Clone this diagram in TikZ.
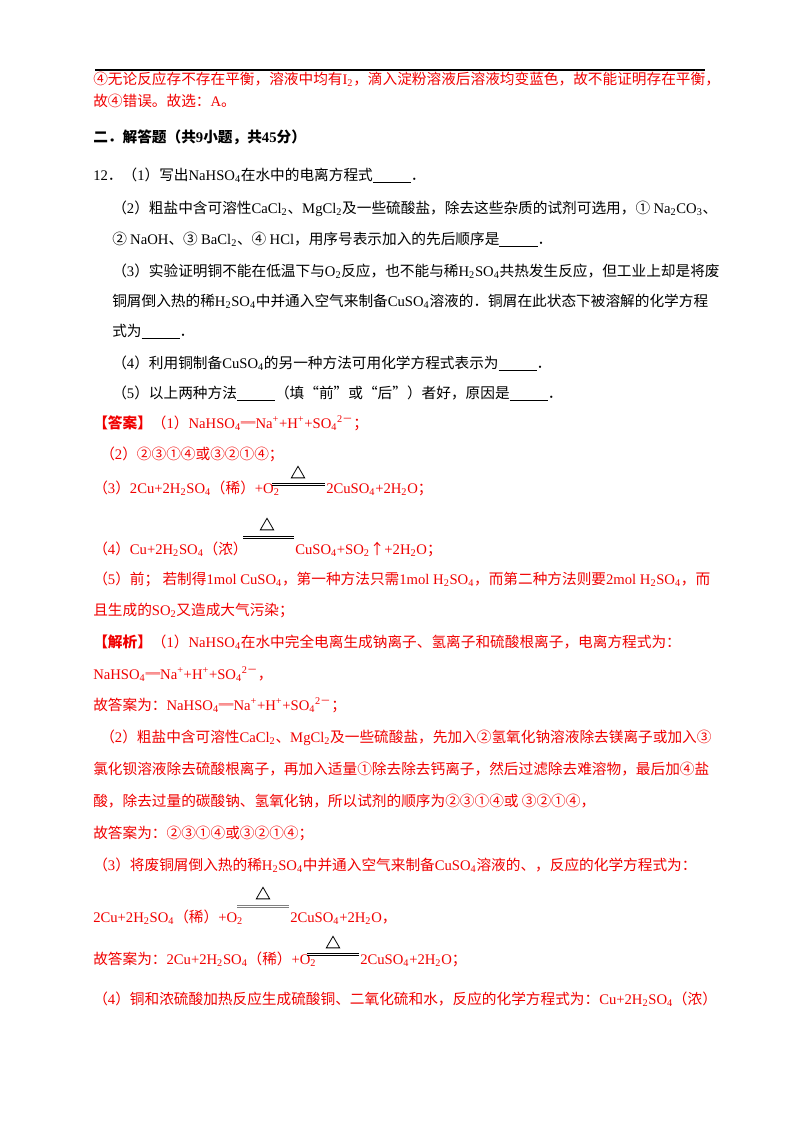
\documentclass[tikz,border=0pt]{standalone}
\usetikzlibrary{shapes.geometric}
\usepackage{fontspec}
\setmainfont{Liberation Serif}
\newfontfamily\cjk{Noto Sans CJK SC}
\newfontfamily\latn{Liberation Serif}
\XeTeXinterchartokenstate=1
\newXeTeXintercharclass\CJKcls
\count255="3000 \loop\XeTeXcharclass\count255=\CJKcls\ifnum\count255<"9FFF\advance\count255 by 1\repeat
\count255="FF00 \loop\XeTeXcharclass\count255=\CJKcls\ifnum\count255<"FFEF\advance\count255 by 1\repeat
\count255="2460 \loop\XeTeXcharclass\count255=\CJKcls\ifnum\count255<"24FF\advance\count255 by 1\repeat
\XeTeXcharclass"2014=\CJKcls \XeTeXcharclass"201C=\CJKcls \XeTeXcharclass"201D=\CJKcls
\XeTeXcharclass"2191=\CJKcls \XeTeXcharclass"2550=\CJKcls
\XeTeXinterchartoks 0 \CJKcls = {\cjk}
\XeTeXinterchartoks 4095 \CJKcls = {\cjk}
\XeTeXinterchartoks \CJKcls 0 = {\latn}
\XeTeXinterchartoks 4095 0 = {\latn}
\newcommand\dn[1]{\textsubscript{#1}}
\newcommand\up[1]{\textsuperscript{#1}}
\definecolor{ans}{RGB}{240,0,0}
\begin{document}
\begin{tikzpicture}[x=0.75pt,y=-0.75pt,
  t/.style={anchor=base west,inner sep=0pt,font=\fontsize{11}{13}\selectfont},
  r/.style={t,text=ans},
  heat/.style={line width=0.5pt},
  tri/.style={draw,isosceles triangle,shape border rotate=90,inner sep=0pt,minimum height=8pt,minimum width=10pt,isosceles triangle apex angle=60,line width=0.6pt}]
\useasboundingbox (0,0) rectangle (800,1132);
\draw[line width=0.8pt] (95,70) -- (705,70);
\node[r] (l1) at (93,84) {④无论反应存不存在平衡，溶液中均有I\dn{2}，滴入淀粉溶液后溶液均变蓝色，故不能证明存在平衡，};
\node[r] (l2) at (93,106) {故④错误。故选：A。};
\node[t,font=\fontsize{11}{13}\selectfont\bfseries] (h) at (93,142) {二．解答题（共9小题，共45分）};
\node[t] (q1) at (93,180) {12．（1）写出NaHSO\dn{4}在水中的电离方程式\underline{\hspace{2.6em}}．};
\node[t] (q2) at (112,213) {（2）粗盐中含可溶性CaCl\dn{2}、MgCl\dn{2}及一些硫酸盐，除去这些杂质的试剂可选用，① Na\dn{2}CO\dn{3}、};
\node[t] (q2b) at (112,244) {② NaOH、③ BaCl\dn{2}、④ HCl，用序号表示加入的先后顺序是\underline{\hspace{2.6em}}．};
\node[t] (q3) at (112,276) {（3）实验证明铜不能在低温下与O\dn{2}反应，也不能与稀H\dn{2}SO\dn{4}共热发生反应，但工业上却是将废};
\node[t] (q3b) at (112,306) {铜屑倒入热的稀H\dn{2}SO\dn{4}中并通入空气来制备CuSO\dn{4}溶液的．铜屑在此状态下被溶解的化学方程};
\node[t] (q3c) at (112,336) {式为\underline{\hspace{2.6em}}．};
\node[t] (q4) at (112,368) {（4）利用铜制备CuSO\dn{4}的另一种方法可用化学方程式表示为\underline{\hspace{2.6em}}．};
\node[t] (q5) at (112,398) {（5）以上两种方法\underline{\hspace{2.6em}}（填“前”或“后”）者好，原因是\underline{\hspace{2.6em}}．};
\node[r] (a1) at (93,428) {\textbf{【答案】}（1）NaHSO\dn{4}═Na\up{+}+H\up{+}+SO\dn{4}\up{2－}；};
\node[r] (a2) at (100,459) {（2）②③①④或③②①④；};
\node[r] (a3) at (93,493) {（3）2Cu+2H\dn{2}SO\dn{4}（稀）+O\dn{2}};
\node[r] (a3r) at (326,493) {2CuSO\dn{4}+2H\dn{2}O；};
\draw[heat] (272,483) -- (325,483) (272,485.5) -- (325,485.5);
\node[tri] (tr1) at (298,474) {};
\node[r] (a4) at (93,554) {（4）Cu+2H\dn{2}SO\dn{4}（浓）};
\node[r] (a4r) at (295,554) {CuSO\dn{4}+SO\dn{2}↑+2H\dn{2}O；};
\draw[heat] (243,536) -- (294,536) (243,538.5) -- (294,538.5);
\node[tri] (tr2) at (267,526) {};
\node[r] (a5) at (93,584) {（5）前；\ 若制得1mol CuSO\dn{4}，第一种方法只需1mol H\dn{2}SO\dn{4}，而第二种方法则要2mol H\dn{2}SO\dn{4}，而};
\node[r] (a5b) at (93,615) {且生成的SO\dn{2}又造成大气污染；};
\node[r] (j1) at (93,647) {\textbf{【解析】}（1）NaHSO\dn{4}在水中完全电离生成钠离子、氢离子和硫酸根离子，电离方程式为：};
\node[r] (j1b) at (93,679) {NaHSO\dn{4}═Na\up{+}+H\up{+}+SO\dn{4}\up{2－}，};
\node[r] (j1c) at (93,710) {故答案为：NaHSO\dn{4}═Na\up{+}+H\up{+}+SO\dn{4}\up{2－}；};
\node[r] (j2) at (100,742) {（2）粗盐中含可溶性CaCl\dn{2}、MgCl\dn{2}及一些硫酸盐，先加入②氢氧化钠溶液除去镁离子或加入③};
\node[r] (j2b) at (93,774) {氯化钡溶液除去硫酸根离子，再加入适量①除去除去钙离子，然后过滤除去难溶物，最后加④盐};
\node[r] (j2c) at (93,806) {酸，除去过量的碳酸钠、氢氧化钠，所以试剂的顺序为②③①④或\ ③②①④，};
\node[r] (j2d) at (93,838) {故答案为：②③①④或③②①④；};
\node[r] (j3) at (93,870) {（3）将废铜屑倒入热的稀H\dn{2}SO\dn{4}中并通入空气来制备CuSO\dn{4}溶液的、，反应的化学方程式为：};
\node[r] (j3b) at (93,922) {2Cu+2H\dn{2}SO\dn{4}（稀）+O\dn{2}};
\node[r] (j3r) at (290,922) {2CuSO\dn{4}+2H\dn{2}O，};
\draw[heat,gray] (237,905) -- (289,905) (237,907) -- (289,907);
\node[tri] (tr3) at (263,895) {};
\node[r] (j3c) at (93,964) {故答案为：2Cu+2H\dn{2}SO\dn{4}（稀）+O\dn{2}};
\node[r] (j3cr) at (360,964) {2CuSO\dn{4}+2H\dn{2}O；};
\draw[heat] (307,953) -- (359,953) (307,955.5) -- (359,955.5);
\node[tri] (tr4) at (333,944) {};
\node[r] (j4) at (93,1004) {（4）铜和浓硫酸加热反应生成硫酸铜、二氧化硫和水，反应的化学方程式为：Cu+2H\dn{2}SO\dn{4}（浓）};
\end{tikzpicture}
\end{document}
